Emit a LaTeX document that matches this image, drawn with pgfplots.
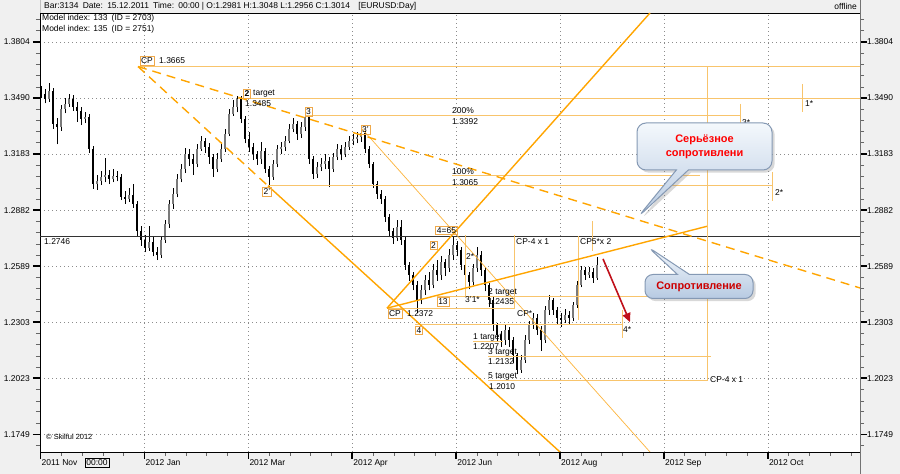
\documentclass[border=0pt]{standalone}
\usepackage{pgfplots}
\pgfplotsset{compat=1.18}
\usepackage{pgfplotstable}
\usepackage{fontspec}
\setmainfont{Liberation Sans}
\usetikzlibrary{shapes.callouts,shadows,arrows.meta}

\definecolor{bgc}{HTML}{F0F0F0}
\definecolor{gridc}{HTML}{8C8C8C}
\definecolor{org}{HTML}{FFA500}
\definecolor{lorg}{HTML}{F8C46C}
\definecolor{thorg}{HTML}{FDB53C}
\definecolor{boxc}{HTML}{EFA94A}
\definecolor{upc}{HTML}{7A7A7A}
\definecolor{arrowred}{HTML}{C0101A}
\definecolor{calltop}{HTML}{F4F8FC}
\definecolor{callbot}{HTML}{B7CAE2}
\definecolor{calledge}{HTML}{8599B4}

\newcommand\sz{\fontsize{8.5}{10}\selectfont}

% daily bars, EURUSD: open high low close
\pgfplotstableread{
o h l c
1.3520 1.3555 1.3490 1.3512
1.3512 1.3540 1.3460 1.3485
1.3485 1.3575 1.3470 1.3529
1.3529 1.3545 1.3320 1.3348
1.3348 1.3380 1.3235 1.3331
1.3331 1.3450 1.3310 1.3430
1.3430 1.3490 1.3405 1.3457
1.3457 1.3510 1.3440 1.3485
1.3485 1.3505 1.3420 1.3441
1.3441 1.3470 1.3360 1.3419
1.3419 1.3440 1.3340 1.3375
1.3375 1.3410 1.3350 1.3386
1.3386 1.3400 1.3190 1.3211
1.3211 1.3225 1.2995 1.3022
1.3022 1.3070 1.2990 1.3038
1.3038 1.3090 1.3015 1.3060
1.3060 1.3160 1.3030 1.3070
1.3070 1.3095 1.3020 1.3049
1.3049 1.3100 1.3030 1.3065
1.3065 1.3090 1.3035 1.3060
1.3060 1.3075 1.2935 1.2952
1.2952 1.2985 1.2915 1.2941
1.2941 1.3000 1.2925 1.2963
1.2963 1.3020 1.2895 1.2915
1.2915 1.2930 1.2745 1.2770
1.2770 1.2800 1.2695 1.2727
1.2727 1.2750 1.2660 1.2685
1.2685 1.2800 1.2670 1.2717
1.2717 1.2740 1.2640 1.2663
1.2663 1.2690 1.2620 1.2647
1.2647 1.2745 1.2630 1.2727
1.2727 1.2830 1.2710 1.2807
1.2807 1.2935 1.2790 1.2915
1.2915 1.3000 1.2890 1.2969
1.2969 1.3075 1.2950 1.3049
1.3049 1.3130 1.3030 1.3102
1.3102 1.3215 1.3080 1.3183
1.3183 1.3210 1.3120 1.3156
1.3156 1.3180 1.3070 1.3129
1.3129 1.3235 1.3110 1.3211
1.3211 1.3280 1.3200 1.3254
1.3254 1.3270 1.3190 1.3221
1.3221 1.3240 1.3130 1.3167
1.3167 1.3180 1.3060 1.3102
1.3102 1.3190 1.3085 1.3156
1.3156 1.3240 1.3140 1.3211
1.3211 1.3320 1.3195 1.3293
1.3293 1.3430 1.3280 1.3402
1.3402 1.3480 1.3390 1.3441
1.3441 1.3500 1.3410 1.3485
1.3485 1.3500 1.3350 1.3375
1.3375 1.3390 1.3240 1.3265
1.3265 1.3300 1.3195 1.3221
1.3221 1.3245 1.3150 1.3183
1.3183 1.3200 1.3125 1.3156
1.3156 1.3250 1.3130 1.3200
1.3200 1.3215 1.3080 1.3102
1.3102 1.3120 1.3000 1.3060
1.3060 1.3150 1.3045 1.3129
1.3129 1.3230 1.3110 1.3211
1.3211 1.3250 1.3185 1.3221
1.3221 1.3280 1.3200 1.3254
1.3254 1.3345 1.3240 1.3320
1.3320 1.3380 1.3300 1.3348
1.3348 1.3365 1.3260 1.3293
1.3293 1.3360 1.3270 1.3331
1.3331 1.3400 1.3310 1.3386
1.3386 1.3395 1.3130 1.3156
1.3156 1.3170 1.3050 1.3076
1.3076 1.3140 1.3055 1.3113
1.3113 1.3160 1.3090 1.3129
1.3129 1.3180 1.3100 1.3145
1.3145 1.3165 1.3005 1.3102
1.3102 1.3190 1.3085 1.3167
1.3167 1.3235 1.3150 1.3211
1.3211 1.3230 1.3150 1.3183
1.3183 1.3250 1.3165 1.3221
1.3221 1.3280 1.3205 1.3254
1.3254 1.3290 1.3230 1.3265
1.3265 1.3300 1.3240 1.3276
1.3276 1.3322 1.3250 1.3298
1.3298 1.3310 1.3190 1.3211
1.3211 1.3225 1.3105 1.3129
1.3129 1.3140 1.3000 1.3022
1.3022 1.3040 1.2940 1.2969
1.2969 1.2990 1.2915 1.2941
1.2941 1.2955 1.2820 1.2845
1.2845 1.2860 1.2740 1.2770
1.2770 1.2790 1.2705 1.2738
1.2738 1.2830 1.2720 1.2791
1.2791 1.2830 1.2700 1.2727
1.2727 1.2740 1.2570 1.2594
1.2594 1.2610 1.2515 1.2543
1.2543 1.2560 1.2465 1.2492
1.2492 1.2510 1.2350 1.2415
1.2415 1.2490 1.2395 1.2466
1.2466 1.2545 1.2440 1.2517
1.2517 1.2560 1.2465 1.2492
1.2492 1.2600 1.2475 1.2569
1.2569 1.2620 1.2515 1.2543
1.2543 1.2640 1.2520 1.2610
1.2610 1.2625 1.2540 1.2579
1.2579 1.2680 1.2560 1.2647
1.2647 1.2740 1.2620 1.2701
1.2701 1.2720 1.2640 1.2674
1.2674 1.2690 1.2570 1.2594
1.2594 1.2610 1.2515 1.2543
1.2543 1.2560 1.2470 1.2507
1.2507 1.2600 1.2490 1.2579
1.2579 1.2690 1.2560 1.2647
1.2647 1.2670 1.2540 1.2569
1.2569 1.2585 1.2460 1.2492
1.2492 1.2505 1.2380 1.2415
1.2415 1.2430 1.2260 1.2288
1.2288 1.2300 1.2205 1.2238
1.2238 1.2260 1.2180 1.2213
1.2213 1.2290 1.2190 1.2263
1.2263 1.2280 1.2180 1.2213
1.2213 1.2230 1.2100 1.2138
1.2138 1.2150 1.2042 1.2063
1.2063 1.2140 1.2050 1.2113
1.2113 1.2240 1.2100 1.2213
1.2213 1.2310 1.2195 1.2288
1.2288 1.2350 1.2270 1.2323
1.2323 1.2345 1.2240 1.2263
1.2263 1.2285 1.2160 1.2213
1.2213 1.2385 1.2200 1.2364
1.2364 1.2440 1.2340 1.2415
1.2415 1.2425 1.2340 1.2364
1.2364 1.2380 1.2295 1.2323
1.2323 1.2350 1.2280 1.2313
1.2313 1.2370 1.2300 1.2338
1.2338 1.2360 1.2290 1.2323
1.2323 1.2405 1.2310 1.2390
1.2390 1.2510 1.2375 1.2492
1.2492 1.2590 1.2480 1.2569
1.2569 1.2585 1.2520 1.2543
1.2543 1.2585 1.2530 1.2558
1.2558 1.2580 1.2505 1.2528
1.2528 1.2637 1.2520 1.2594
}\bars

\begin{document}
\begin{tikzpicture}
\useasboundingbox (0,0) rectangle (900bp,474bp);
\fill[bgc] (0,0) rectangle (900bp,474bp);

\begin{axis}[
  at={(40bp,22bp)}, anchor=south west, scale only axis,
  width=820bp, height=439bp,
  xmin=40, xmax=860, ymode=log, ymin=1.1664, ymax=1.3969,
  axis background/.style={fill=white},
  axis line style={black, line width=0.8bp},
  xtick={40.5,144.4,248.3,352.2,456.1,560,663.9,767.8},
  xticklabels={2011 Nov,2012 Jan,2012 Mar,2012 Apr,2012 Jun,2012 Aug,2012 Sep,2012 Oct},
  minor xtick={61.3,82.1,102.9,123.6,165.2,186,206.7,227.5,269.1,289.9,310.6,331.4,373,393.8,414.5,435.3,476.9,497.7,518.4,539.2,580.8,601.6,622.3,643.1,684.7,705.5,726.2,747,788.6,809.4,830.1,850.9},
  ytick={1.1749,1.2023,1.2303,1.2589,1.2882,1.3183,1.3490,1.3804},
  yticklabels={1.1749,1.2023,1.2303,1.2589,1.2882,1.3183,1.3490,1.3804},
  minor ytick={1.1695,1.1803,1.1858,1.1912,1.1967,1.2078,1.2134,1.2190,1.2246,1.2360,1.2417,1.2474,1.2531,1.2647,1.2705,1.2764,1.2823,1.2941,1.3001,1.3061,1.3121,1.3244,1.3305,1.3366,1.3428,1.3552,1.3615,1.3677,1.3740,1.3868,1.3932},
  xtick pos=bottom, ytick pos=both, yticklabel pos=left,
  tick align=outside, major tick length=7bp, minor tick length=4bp,
  major tick style={black, line width=1.5bp},
  minor tick style={black!60, line width=0.6bp},
  grid=major,
  major grid style={gridc, line width=0.6bp, dash pattern=on 1bp off 3bp},
  xticklabel style={anchor=north west, inner sep=0pt, font=\sz, yshift=-1bp, xshift=1bp},
  yticklabel style={anchor=east, inner sep=0pt, font=\sz, xshift=-3bp},
]
% price bars: one wick and one body per row of the table
\pgfplotsinvokeforeach{0,...,139}{%
  \pgfplotstablegetelem{#1}{o}\of\bars \let\vo\pgfplotsretval
  \pgfplotstablegetelem{#1}{h}\of\bars \let\vh\pgfplotsretval
  \pgfplotstablegetelem{#1}{l}\of\bars \let\vl\pgfplotsretval
  \pgfplotstablegetelem{#1}{c}\of\bars \let\vc\pgfplotsretval
  \pgfmathsetmacro\vx{41+4*#1}%
  \ifdim\vc pt<\vo pt \def\bc{black}\else\def\bc{upc}\fi
  \edef\doit{%
    \noexpand\addplot[black, line width=0.9bp] coordinates {(\vx,\vl) (\vx,\vh)};
    \noexpand\addplot[\bc, line width=2.8bp] coordinates {(\vx,\vo) (\vx,\vc)};
  }\doit
}

% level lines
\addplot[black!80, line width=0.8bp] coordinates {(40,1.2746) (860,1.2746)};
\addplot[lorg, line width=0.8bp] coordinates {(138,1.3665) (860,1.3665)};
\addplot[lorg, line width=0.8bp] coordinates {(238,1.3485) (860,1.3485)};
\addplot[lorg, line width=0.8bp] coordinates {(305,1.3392) (740,1.3392)};
\addplot[lorg, line width=0.8bp] coordinates {(740,1.3457) (740,1.3298)};
\addplot[lorg, line width=0.8bp] coordinates {(268,1.3011) (772,1.3011)};
\addplot[lorg, line width=0.8bp] coordinates {(772,1.3086) (772,1.2930)};
\addplot[lorg, line width=0.8bp] coordinates {(452,1.3065) (700,1.3065)};
\addplot[lorg, line width=0.8bp] coordinates {(802,1.3567) (802,1.3413)};
\addplot[lorg, line width=0.8bp] coordinates {(707,1.3665) (707,1.2010)};
\addplot[lorg, line width=0.8bp] coordinates {(437,1.2435) (660,1.2435)};
\addplot[lorg, line width=0.8bp] coordinates {(415,1.2293) (622,1.2293)};
\addplot[lorg, line width=0.8bp] coordinates {(622,1.2364) (622,1.2223)};
\addplot[lorg, line width=0.8bp] coordinates {(387,1.2374) (515,1.2374)};
\addplot[lorg, line width=0.8bp] coordinates {(514,1.2751) (514,1.2374)};
\addplot[lorg, line width=0.8bp] coordinates {(578,1.2746) (578,1.2313)};
\addplot[lorg, line width=0.8bp] coordinates {(592,1.2823) (592,1.2670)};
\addplot[lorg, line width=0.8bp] coordinates {(473,1.2207) (503,1.2207)};
\addplot[lorg, line width=0.8bp] coordinates {(488,1.2132) (711,1.2132)};
\addplot[lorg, line width=0.8bp] coordinates {(488,1.2010) (707,1.2010)};
\addplot[lorg, line width=0.8bp] coordinates {(465,1.2751) (465,1.2435)};

% trend lines
\addplot[thorg, line width=0.7bp] coordinates {(362,1.3320) (650,1.1664)};
\addplot[org, line width=1.4bp, dash pattern=on 9bp off 6bp] coordinates {(138,1.3665) (860,1.2477)};
\addplot[org, line width=1.4bp, dash pattern=on 9bp off 6bp] coordinates {(138,1.3665) (268,1.3011)};
\addplot[org, line width=1.4bp] coordinates {(268,1.3011) (560,1.1664)};
\addplot[org, line width=1.4bp] coordinates {(387,1.2374) (650,1.3969)};
\addplot[org, line width=1.4bp] coordinates {(387,1.2374) (707,1.2797)};

% forecast arrow
\addplot[arrowred, line width=1.6bp, -{Triangle[length=9bp,width=8bp]}] coordinates {(603,1.2627) (630,1.2303)};
\end{axis}

% price labels on the right
\begin{axis}[
  at={(40bp,22bp)}, anchor=south west, scale only axis,
  width=820bp, height=439bp,
  xmin=40, xmax=860, ymode=log, ymin=1.1664, ymax=1.3969,
  hide x axis, axis y line*=right,
  y axis line style={draw=none}, ytick style={draw=none}, minor ytick={},
  ytick={1.1749,1.2023,1.2303,1.2589,1.2882,1.3183,1.3490,1.3804},
  yticklabels={1.1749,1.2023,1.2303,1.2589,1.2882,1.3183,1.3490,1.3804},
  yticklabel style={anchor=west, inner sep=0pt, font=\sz, xshift=7bp},
]
\addplot[draw=none] coordinates {(50,1.2)};
\end{axis}

\begin{scope}[x=1bp, y=-1bp, shift={(0bp,474bp)},
  every node/.style={font=\sz, inner sep=0pt},
  lbl/.style={draw=boxc, line width=0.7bp, inner sep=1.2bp}]
\draw[black!55, line width=0.8bp] (860,0) -- (860,474);
\draw[black!25, line width=0.8bp] (40,0) -- (40,13);
\node[anchor=west] at (44,6.5) {Bar:3134\enspace Date:\enspace 15.12.2011\enspace Time:\enspace 00:00 | O:1.2981 H:1.3048 L:1.2956 C:1.3014\enspace\enspace [EURUSD:Day]};
\node[anchor=east] at (857,6.5) {offline};
\node[anchor=west] at (42,18.5) {Model index: 133\enspace (ID = 2703)};
\node[anchor=west] at (42,29.5) {Model index: 135\enspace (ID = 2751)};
\node[anchor=west] at (44,242) {1.2746};
\node[anchor=west, font=\fontsize{7.5}{9}\selectfont] at (46,437) {© Skilful 2012};
\node[draw=black, line width=0.8bp, inner sep=1.5bp] at (97,463) {00:00};

\node[lbl] at (147,61) {CP};
\node[anchor=west] at (159,61) {1.3665};
\node[lbl, font=\sz\bfseries] at (247,94) {2};
\node[anchor=west] at (253,94) {target};
\node[anchor=west] at (245,104) {1.3485};
\node[lbl] at (308.5,112) {3};
\node[lbl] at (365.5,130) {3'};
\node[lbl] at (267,192) {2'};
\node[anchor=west] at (452,111) {200\%};
\node[anchor=west] at (452,122) {1.3392};
\node[anchor=west] at (452,172) {100\%};
\node[anchor=west] at (452,183) {1.3065};
\node[anchor=west] at (805,104) {1*};
\node[anchor=west] at (742,123) {3*};
\node[anchor=west] at (775,193) {2*};
\node[lbl] at (446.5,230.5) {4=65};
\node[lbl] at (433.5,245.5) {2};
\node[anchor=west] at (466,257) {2*};
\node[lbl] at (443,302) {13};
\node[anchor=west] at (465,300) {3'1*};
\node[lbl] at (395,314) {CP};
\node[anchor=west] at (407,314) {1.2372};
\node[lbl] at (419,330.5) {4};
\node[anchor=west] at (488,292) {2 target};
\node[anchor=west] at (488,301.5) {1.2435};
\node[anchor=west] at (516,242) {CP-4 x 1};
\node[anchor=west] at (580,242) {CP5*x 2};
\node[anchor=west] at (517,314) {CP*};
\node[anchor=west] at (473,337) {1 target};
\node[anchor=west] at (473,346.5) {1.2207};
\node[anchor=west] at (488,352) {3 target};
\node[anchor=west] at (488,362) {1.2132};
\node[anchor=west] at (488,376) {5 target};
\node[anchor=west] at (489,386.5) {1.2010};
\node[anchor=west] at (623,330) {4*};
\node[anchor=west] at (710,380) {CP-4 x 1};

% callouts
\node[rectangle callout, callout absolute pointer={(638,217)},
  callout pointer width=12bp, minimum width=135bp, minimum height=47bp,
  rounded corners=9bp, top color=calltop, bottom color=callbot,
  draw=calledge, line width=1bp, drop shadow={opacity=0.3},
  align=center, text=red, font=\fontsize{11}{14}\selectfont\bfseries]
  at (704.5,146.5) {Серьёзное\\сопротивлени};
\node[rectangle callout, callout absolute pointer={(648,247)},
  callout pointer width=12bp, minimum width=108bp, minimum height=24bp,
  rounded corners=8bp, top color=calltop, bottom color=callbot,
  draw=calledge, line width=1bp, drop shadow={opacity=0.3},
  text=red!80!black, font=\fontsize{11}{14}\selectfont\bfseries]
  at (699,286.5) {Сопротивление};
\end{scope}
\end{tikzpicture}
\end{document}
